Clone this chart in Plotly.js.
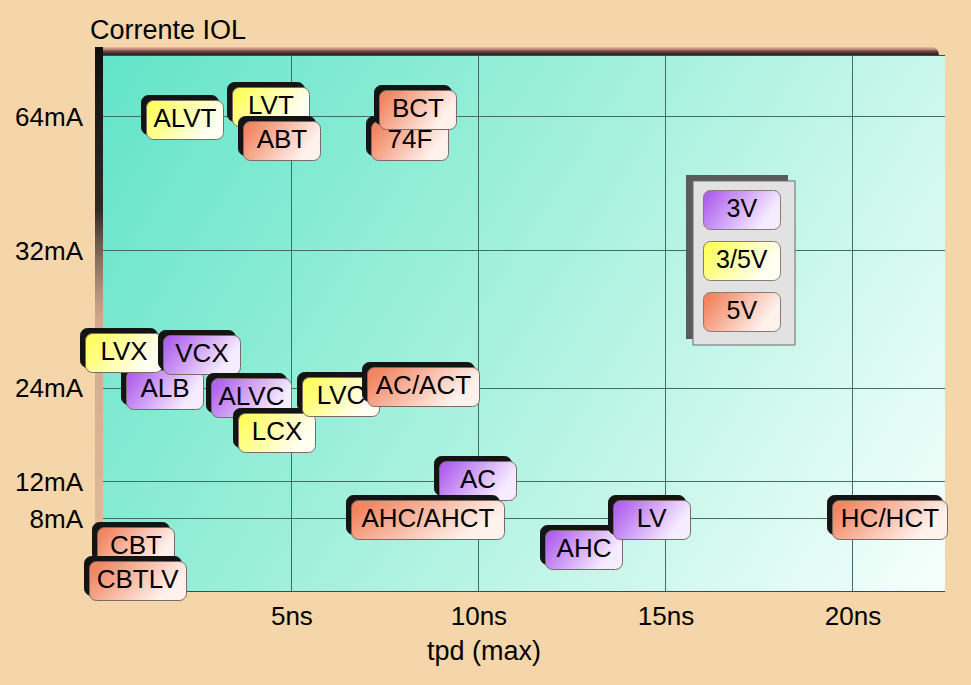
<!DOCTYPE html>
<html>
<head>
<meta charset="utf-8">
<script src="https://cdn.plot.ly/plotly-3.0.1.min.js"></script>
<style>html,body{margin:0;padding:0;background:#f4d6aa;}#chart{width:971px;height:685px;}</style>
</head>
<body>
<div id="chart"></div>
<script>
// ---------- data ----------
const families = ['ALVT','LVT','ABT','74F','BCT','ALB','LVX','VCX','ALVC','LCX','LVC','AC/ACT','AC','AHC/AHCT','AHC','LV','HC/HCT','CBT','CBTLV'];
const tpdMax   = [2.14, 4.44, 4.73, 8.16, 8.37, 1.60, 0.51, 2.59, 3.93, 4.60, 6.31, 8.53, 9.97, 8.64, 12.81, 14.63, 20.99, 0.83, 0.88];
const iolPos   = [88.0, 90.5, 84.1, 84.1, 89.9, 37.6, 44.5, 44.1, 36.1, 29.5, 36.3, 38.1, 20.6, 13.3, 7.7, 13.3, 13.3, 8.2, 1.9];
const supply   = ['3/5V','3/5V','5V','5V','5V','3V','3/5V','3V','3V','3/5V','3/5V','5V','3V','5V','3V','3V','5V','5V','5V'];
const xTickVals = [5, 10, 15, 20];
const xTickText = ['5ns','10ns','15ns','20ns'];
const yTickPos  = [13.5, 20.4, 37.9, 63.6, 88.6];
const yTickText = ['8mA','12mA','24mA','32mA','64mA'];
const legendKeys = ['3V','3/5V','5V'];

// ---------- styles ----------
const FONT = '"Liberation Sans", Arial, sans-serif';
const FS = 26;
const gradIds = {'3V':'gPurple','3/5V':'gYellow','5V':'gOrange'};
const baseCol = {'3V':'#cf9af5','3/5V':'#ffffa8','5V':'#f7b8a0'};
const gradStops = {
  gPurple: [['0','#b062ee'],['0.85','#f6ecff']],
  gYellow: [['0','#ffff5c'],['0.85','#fffff2']],
  gOrange: [['0','#f2845f'],['0.85','#fff1ec']]
};

const ctx = document.createElement('canvas').getContext('2d');
ctx.font = FS + 'px ' + FONT;
function boxW(t){ return Math.max(74, Math.round(ctx.measureText(t).width * 1.08 + 6)); }

const annotations = [];
const annMeta = [];
families.forEach((f, i) => {
  const w = boxW(f);
  annotations.push({x: tpdMax[i], y: iolPos[i], xref:'x', yref:'y', text: '\u00a0', showarrow:false,
    xanchor:'center', yanchor:'middle', xshift:-5, yshift:5, width:w, height:36, borderpad:1,
    bgcolor:'#141414', bordercolor:'#141414', borderwidth:1, font:{family:FONT, size:FS, color:'rgba(0,0,0,0)'}});
  annMeta.push({round:true});
  annotations.push({x: tpdMax[i], y: iolPos[i], xref:'x', yref:'y', text: f, showarrow:false,
    xanchor:'center', yanchor:'middle', width:w, height:36, borderpad:1,
    bgcolor: baseCol[supply[i]], bordercolor:'#7a6a66', borderwidth:1, font:{family:FONT, size:FS, color:'#000'}});
  annMeta.push({round:true, grad: gradIds[supply[i]], lift:true});
});

// legend entries
const legY = [0.7121, 0.6168, 0.5215];
legendKeys.forEach((k, i) => {
  annotations.push({x:0.7589, y:legY[i], xref:'paper', yref:'paper', text:k, showarrow:false,
    xanchor:'center', yanchor:'middle', width:76, height:38, borderpad:0,
    bgcolor: baseCol[k], bordercolor:'#8a7a76', borderwidth:1, font:{family:FONT, size:25, color:'#000'}});
  annMeta.push({round:true, grad: gradIds[k], lift:true});
});

// title + x axis title
annotations.push({x:-0.0178, y:(591-30)/535, xref:'paper', yref:'paper', text:'Corrente IOL', showarrow:false,
  xanchor:'left', yanchor:'middle', font:{family:FONT, size:27, color:'#000'}});
annMeta.push({});
annotations.push({x:(484-103)/842, y:(591-651)/535, xref:'paper', yref:'paper', text:'tpd (max)', showarrow:false,
  xanchor:'center', yanchor:'middle', font:{family:FONT, size:27, color:'#000'}});
annMeta.push({});

// ---------- background image (plot gradient + shadow) ----------
function makeBg(){
  const W = 850, H = 544, sx = 8, sy = 9;
  const c = document.createElement('canvas'); c.width = W; c.height = H;
  const g = c.getContext('2d');
  const tg = g.createLinearGradient(0, 0, 0, sy);
  tg.addColorStop(0, 'rgba(235,170,160,0.6)');
  tg.addColorStop(0.5, 'rgba(90,50,50,0.9)');
  tg.addColorStop(1, 'rgba(15,15,15,1)');
  g.fillStyle = tg;
  g.beginPath();
  g.moveTo(0, 0); g.lineTo(W - 14, 0); g.quadraticCurveTo(W - 6, 0, W - 6, sy); g.lineTo(0, sy); g.closePath();
  g.fill();
  const lg = g.createLinearGradient(0, 0, 0, H);
  lg.addColorStop(0, 'rgba(15,15,15,1)');
  lg.addColorStop(0.3, 'rgba(40,30,30,0.95)');
  lg.addColorStop(0.5, 'rgba(180,120,110,0.5)');
  lg.addColorStop(1, 'rgba(215,160,140,0.45)');
  g.fillStyle = lg;
  g.fillRect(0, 0, sx, H);
  const pg = g.createLinearGradient(sx, sy, W, H);
  pg.addColorStop(0, '#62e4c8');
  pg.addColorStop(0.45, '#a2f0dc');
  pg.addColorStop(1, '#f6fffc');
  g.fillStyle = pg;
  g.fillRect(sx, sy, W - sx, H - sy);
  return c.toDataURL('image/png');
}

const layout = {
  width: 971, height: 685,
  paper_bgcolor: '#f4d6aa', plot_bgcolor: 'rgba(0,0,0,0)',
  margin: {l:103, r:26, t:56, b:94, pad:0},
  showlegend: false,
  font: {family: FONT, size: FS, color:'#000'},
  xaxis: {range:[-0.05, 22.46], tickvals:xTickVals, ticktext:xTickText, showgrid:true, gridcolor:'#3f6f66', gridwidth:1,
    zeroline:false, ticks:'', showline:true, linecolor:'#3c4c4a', linewidth:1, mirror:true,
    tickfont:{family:FONT, size:26, color:'#000'}, ticklabelstandoff:2, fixedrange:true},
  yaxis: {range:[0, 100], tickvals:yTickPos, ticktext:yTickText, showgrid:true, gridcolor:'#3f6f66', gridwidth:1,
    zeroline:false, ticks:'', showline:false,
    tickfont:{family:FONT, size:26, color:'#000'}, ticklabelstandoff:19, fixedrange:true},
  images: [{source: makeBg(), xref:'paper', yref:'paper', x:-8/842, y:544/535, sizex:850/842, sizey:544/535,
    xanchor:'left', yanchor:'top', sizing:'stretch', layer:'below'}],
  shapes: [
    {type:'rect', xref:'paper', yref:'paper', x0:0.6924, x1:0.8135, y0:0.471, y1:0.7776, fillcolor:'#5a5a5a', line:{width:0}, layer:'above'},
    {type:'rect', xref:'paper', yref:'paper', x0:0.7007, x1:0.8219, y0:0.4598, y1:0.7664, fillcolor:'#e2e2e2', line:{color:'#6a6a6a', width:1}, layer:'above'}
  ],
  annotations: annotations
};

const traces = [{x: tpdMax, y: iolPos, type:'scatter', mode:'markers', marker:{opacity:0}, hoverinfo:'skip', showlegend:false}];

Plotly.newPlot('chart', traces, layout, {displayModeBar:false, staticPlot:true}).then(gd => {
  const svg = gd.querySelector('svg.main-svg');
  let defs = svg.querySelector('defs');
  const NS = 'http://www.w3.org/2000/svg';
  Object.keys(gradStops).forEach(id => {
    const lgEl = document.createElementNS(NS, 'linearGradient');
    lgEl.setAttribute('id', id);
    lgEl.setAttribute('x1', '0'); lgEl.setAttribute('y1', '0.3');
    lgEl.setAttribute('x2', '1'); lgEl.setAttribute('y2', '0.7');
    gradStops[id].forEach(s => {
      const st = document.createElementNS(NS, 'stop');
      st.setAttribute('offset', s[0]); st.setAttribute('stop-color', s[1]);
      lgEl.appendChild(st);
    });
    defs.appendChild(lgEl);
  });
  gd.querySelectorAll('g.annotation').forEach(g => {
    const i = +g.getAttribute('data-index');
    const m = annMeta[i];
    const r = g.querySelector('rect.bg');
    if (!r || !m) return;
    if (m.round) { r.setAttribute('rx', 7); r.setAttribute('ry', 7); }
    if (m.grad) r.style.fill = 'url(#' + m.grad + ')';
    if (m.lift) {
      const t = g.querySelector('text.annotation-text');
      if (t) t.setAttribute('transform', 'translate(0,-2)');
    }
  });
});
</script>
</body>
</html>
